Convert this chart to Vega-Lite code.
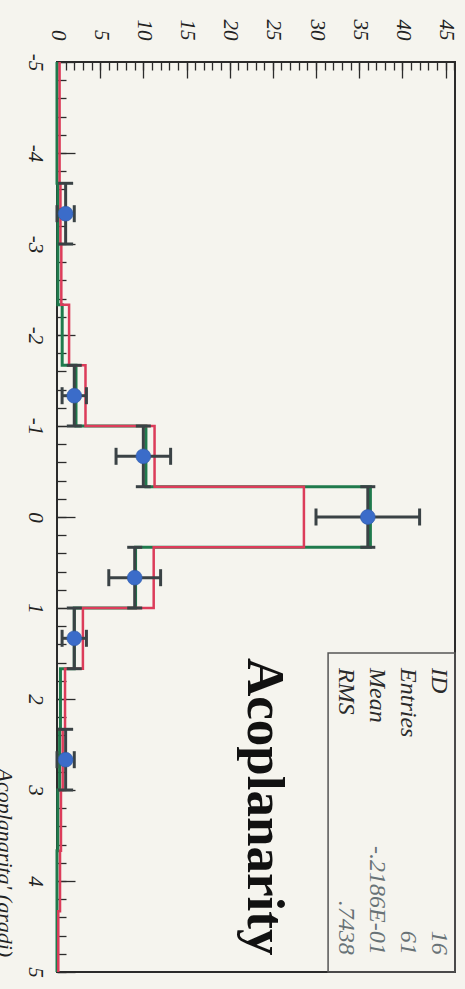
{
  "$schema": "https://vega.github.io/schema/vega-lite/v6.json",
  "width": 398,
  "height": 910,
  "autosize": {"type": "none"},
  "padding": {"left": 57, "top": 62, "right": 10, "bottom": 17},
  "background": "#f5f4ee",
  "config": {
    "view": {"stroke": "#2b2b2b", "strokeWidth": 2},
    "axis": {
      "labelFont": "Liberation Serif",
      "labelFontStyle": "italic",
      "labelFontSize": 21,
      "labelColor": "#222222",
      "tickColor": "#2b2b2b",
      "tickWidth": 1.3,
      "domain": false,
      "grid": false
    }
  },
  "datasets": {
    "hist": [
      {"lo": -5, "red": 0.3, "green": 0},
      {"lo": -4.333, "red": 0.3, "green": 0},
      {"lo": -3.667, "red": 0.4, "green": 0.1},
      {"lo": -3, "red": 0.5, "green": 0.1},
      {"lo": -2.333, "red": 1.4, "green": 0.6},
      {"lo": -1.667, "red": 3.3, "green": 2.2},
      {"lo": -1, "red": 11.3, "green": 10.3},
      {"lo": -0.333, "red": 28.6, "green": 36.3},
      {"lo": 0.333, "red": 11.2, "green": 9.1},
      {"lo": 1, "red": 3.0, "green": 2.0},
      {"lo": 1.667, "red": 0.93, "green": 0.4},
      {"lo": 2.333, "red": 0.66, "green": 0.3},
      {"lo": 3, "red": 0.46, "green": 0.1},
      {"lo": 3.667, "red": 0.35, "green": 0},
      {"lo": 4.333, "red": 0.15, "green": 0},
      {"lo": 5, "red": 0.15, "green": 0}
    ],
    "pts": [
      {"a": -3.333, "a0": -3.667, "a1": -3, "n": 1, "n0": 0, "n1": 2},
      {"a": -1.333, "a0": -1.667, "a1": -1, "n": 2, "n0": 0.59, "n1": 3.41},
      {"a": -0.667, "a0": -1, "a1": -0.333, "n": 10, "n0": 6.84, "n1": 13.16},
      {"a": 0, "a0": -0.333, "a1": 0.333, "n": 36, "n0": 30, "n1": 42},
      {"a": 0.667, "a0": 0.333, "a1": 1, "n": 9, "n0": 6, "n1": 12},
      {"a": 1.333, "a0": 1, "a1": 1.667, "n": 2, "n0": 0.59, "n1": 3.41},
      {"a": 2.667, "a0": 2.333, "a1": 3, "n": 1, "n0": 0, "n1": 2}
    ],
    "stats": [
      {"labels": ["ID", "Entries", "Mean", "RMS"], "values": ["16", "61", "-.2186E-01", ".7438"]}
    ]
  },
  "resolve": {"axis": {"x": "independent", "y": "independent"}},
  "layer": [
    {
      "data": {"name": "hist"},
      "mark": {"type": "line", "interpolate": "step-before", "color": "#1f7a4c", "strokeWidth": 3},
      "encoding": {
        "x": {"field": "green", "type": "quantitative", "scale": {"domain": [0, 46.1], "nice": false, "zero": false},
          "axis": {"orient": "top", "values": [0,1,2,3,4,5,6,7,8,9,10,11,12,13,14,15,16,17,18,19,20,21,22,23,24,25,26,27,28,29,30,31,32,33,34,35,36,37,38,39,40,41,42,43,44,45,46], "tickSize": -8, "labels": false, "title": null}},
        "y": {"field": "lo", "type": "quantitative", "scale": {"domain": [-5, 5], "nice": false, "reverse": true},
          "axis": {"orient": "left", "values": [-5,-4.8,-4.6,-4.4,-4.2,-4,-3.8,-3.6,-3.4,-3.2,-3,-2.8,-2.6,-2.4,-2.2,-2,-1.8,-1.6,-1.4,-1.2,-1,-0.8,-0.6,-0.4,-0.2,0,0.2,0.4,0.6,0.8,1,1.2,1.4,1.6,1.8,2,2.2,2.4,2.6,2.8,3,3.2,3.4,3.6,3.8,4,4.2,4.4,4.6,4.8,5], "tickSize": -9, "labels": false, "title": null}},
        "order": {"field": "lo", "type": "quantitative"}
      }
    },
    {
      "data": {"name": "hist"},
      "mark": {"type": "line", "interpolate": "step-before", "color": "#dc3c5a", "strokeWidth": 2.5},
      "encoding": {
        "x": {"field": "red", "type": "quantitative", "scale": {"domain": [0, 46.1], "nice": false, "zero": false},
          "axis": {"orient": "top", "values": [0,5,10,15,20,25,30,35,40,45], "tickSize": -16, "labelAngle": 90, "labelAlign": "right", "labelBaseline": "middle", "labelPadding": 38, "title": null}},
        "y": {"field": "lo", "type": "quantitative", "scale": {"domain": [-5, 5], "nice": false, "reverse": true},
          "axis": {"orient": "left", "values": [-5,-4,-3,-2,-1,0,1,2,3,4,5], "tickSize": -18, "labelAngle": 90, "labelAlign": "center", "labelBaseline": "top", "labelPadding": 30, "labelExpr": "'' + datum.value",
            "title": "Acoplanarita' (gradi)", "titleAngle": 90, "titleAlign": "left", "titleBaseline": "alphabetic", "titleX": -60, "titleY": 706, "titleFont": "Liberation Serif", "titleFontStyle": "italic", "titleFontWeight": "normal", "titleFontSize": 22, "titleColor": "#222222"}},
        "order": {"field": "lo", "type": "quantitative"}
      }
    },
    {
      "data": {"name": "pts"},
      "mark": {"type": "rule", "color": "#3a4245", "strokeWidth": 3},
      "encoding": {
        "x": {"field": "n0", "type": "quantitative", "scale": {"domain": [0, 46.1], "nice": false, "zero": false}, "axis": null},
        "x2": {"field": "n1"},
        "y": {"field": "a", "type": "quantitative", "scale": {"domain": [-5, 5], "nice": false, "reverse": true}, "axis": null}
      }
    },
    {
      "data": {"name": "pts"},
      "mark": {"type": "rule", "color": "#3a4245", "strokeWidth": 3},
      "encoding": {
        "x": {"field": "n", "type": "quantitative", "scale": {"domain": [0, 46.1], "nice": false, "zero": false}, "axis": null},
        "y": {"field": "a0", "type": "quantitative", "scale": {"domain": [-5, 5], "nice": false, "reverse": true}, "axis": null},
        "y2": {"field": "a1"}
      }
    },
    {
      "data": {"name": "pts"},
      "mark": {"type": "tick", "orient": "vertical", "color": "#3a4245", "size": 17, "thickness": 3, "opacity": 1},
      "encoding": {
        "x": {"field": "n0", "type": "quantitative", "scale": {"domain": [0, 46.1], "nice": false, "zero": false}, "axis": null},
        "y": {"field": "a", "type": "quantitative", "scale": {"domain": [-5, 5], "nice": false, "reverse": true}, "axis": null}
      }
    },
    {
      "data": {"name": "pts"},
      "mark": {"type": "tick", "orient": "vertical", "color": "#3a4245", "size": 17, "thickness": 3, "opacity": 1},
      "encoding": {
        "x": {"field": "n1", "type": "quantitative", "scale": {"domain": [0, 46.1], "nice": false, "zero": false}, "axis": null},
        "y": {"field": "a", "type": "quantitative", "scale": {"domain": [-5, 5], "nice": false, "reverse": true}, "axis": null}
      }
    },
    {
      "data": {"name": "pts"},
      "mark": {"type": "tick", "orient": "horizontal", "color": "#3a4245", "size": 15, "thickness": 3, "opacity": 1},
      "encoding": {
        "x": {"field": "n", "type": "quantitative", "scale": {"domain": [0, 46.1], "nice": false, "zero": false}, "axis": null},
        "y": {"field": "a0", "type": "quantitative", "scale": {"domain": [-5, 5], "nice": false, "reverse": true}, "axis": null}
      }
    },
    {
      "data": {"name": "pts"},
      "mark": {"type": "tick", "orient": "horizontal", "color": "#3a4245", "size": 15, "thickness": 3, "opacity": 1},
      "encoding": {
        "x": {"field": "n", "type": "quantitative", "scale": {"domain": [0, 46.1], "nice": false, "zero": false}, "axis": null},
        "y": {"field": "a1", "type": "quantitative", "scale": {"domain": [-5, 5], "nice": false, "reverse": true}, "axis": null}
      }
    },
    {
      "data": {"name": "pts"},
      "mark": {"type": "circle", "size": 220, "fill": "#3b6cc9", "stroke": "#2f5aa8", "strokeWidth": 0.6, "opacity": 1},
      "encoding": {
        "x": {"field": "n", "type": "quantitative", "scale": {"domain": [0, 46.1], "nice": false, "zero": false}, "axis": null},
        "y": {"field": "a", "type": "quantitative", "scale": {"domain": [-5, 5], "nice": false, "reverse": true}, "axis": null}
      }
    },
    {
      "data": {"values": [{}]},
      "mark": {"type": "rect", "fill": null, "fillOpacity": 0, "stroke": "#555555", "strokeWidth": 1.5},
      "encoding": {
        "x": {"datum": 31.4, "type": "quantitative", "scale": {"domain": [0, 46.1], "nice": false, "zero": false}, "axis": null},
        "x2": {"datum": 46.1},
        "y": {"datum": 1.495, "type": "quantitative", "scale": {"domain": [-5, 5], "nice": false, "reverse": true}, "axis": null},
        "y2": {"datum": 5}
      }
    },
    {
      "data": {"name": "stats"},
      "mark": {"type": "text", "angle": 90, "align": "left", "baseline": "alphabetic", "font": "Liberation Serif", "fontStyle": "italic", "fontSize": 24, "lineHeight": 31, "color": "#2a2a2a"},
      "encoding": {
        "x": {"datum": 43.4, "type": "quantitative", "scale": {"domain": [0, 46.1], "nice": false, "zero": false}, "axis": null},
        "y": {"datum": 1.66, "type": "quantitative", "scale": {"domain": [-5, 5], "nice": false, "reverse": true}, "axis": null},
        "text": {"field": "labels", "type": "nominal"}
      }
    },
    {
      "data": {"name": "stats"},
      "mark": {"type": "text", "angle": 90, "align": "right", "baseline": "alphabetic", "font": "Liberation Serif", "fontStyle": "italic", "fontSize": 24, "lineHeight": 31, "color": "#687276"},
      "encoding": {
        "x": {"datum": 43.4, "type": "quantitative", "scale": {"domain": [0, 46.1], "nice": false, "zero": false}, "axis": null},
        "y": {"datum": 4.81, "type": "quantitative", "scale": {"domain": [-5, 5], "nice": false, "reverse": true}, "axis": null},
        "text": {"field": "values", "type": "nominal"}
      }
    },
    {
      "data": {"values": [{"title": "Acoplanarity"}]},
      "mark": {"type": "text", "angle": 90, "align": "left", "baseline": "alphabetic", "font": "Liberation Serif", "fontWeight": "bold", "fontSize": 53, "color": "#111111"},
      "encoding": {
        "x": {"datum": 22.1, "type": "quantitative", "scale": {"domain": [0, 46.1], "nice": false, "zero": false}, "axis": null},
        "y": {"datum": 1.55, "type": "quantitative", "scale": {"domain": [-5, 5], "nice": false, "reverse": true}, "axis": null},
        "text": {"field": "title", "type": "nominal"}
      }
    }
  ]
}
